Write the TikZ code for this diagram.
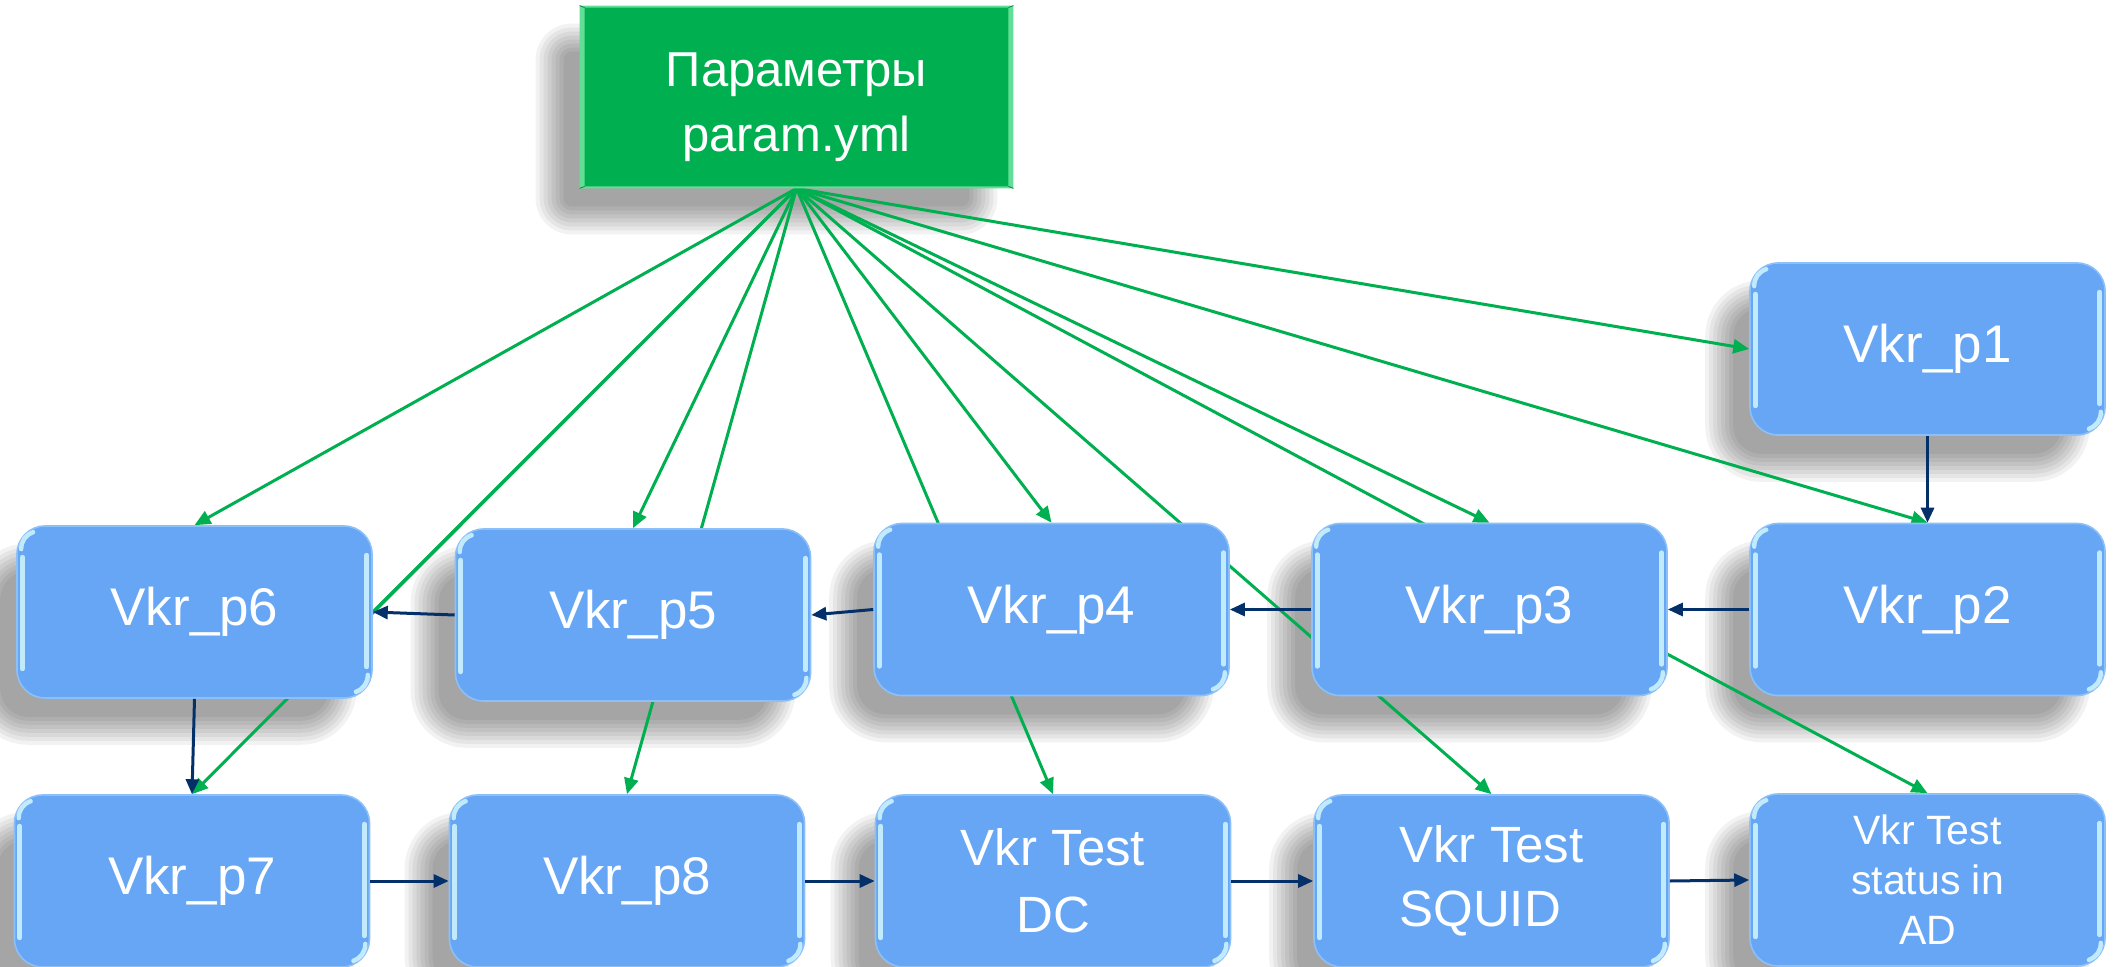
\documentclass[tikz,border=0pt]{standalone}
\usepackage{fontspec}
\setmainfont{Liberation Sans}
\usetikzlibrary{arrows.meta,calc}

\definecolor{boxblue}{HTML}{66A6F4}
\definecolor{boxedge}{HTML}{8CC0F8}
\definecolor{glosscol}{HTML}{D2F6FF}
\definecolor{paramgreen}{HTML}{00B050}
\definecolor{bevelgreen}{HTML}{63DE96}
\definecolor{linkgreen}{HTML}{00B050}
\definecolor{linknavy}{HTML}{04306A}

\pgfdeclarelayer{bg}
\pgfdeclarelayer{shadowlayer}
\pgfdeclarelayer{linklayer}
\pgfsetlayers{bg,shadowlayer,linklayer,main}

% soft drop shadow built from stacked translucent rectangles
\newcommand\dropshadow[2]{%
  \foreach \k in {0,...,7}{%
    \pgfmathsetmacro\rr{#1+2*\k}%
    \fill[black, opacity=0.05, rounded corners=\rr pt]
      ($(#2.north west)+({-16-4*\k},{46-4*\k})$) rectangle
      ($(#2.south east)+({-44+4*\k},{18+4*\k})$);
  }%
}

% glossy edge highlights of a rounded stage box
\newcommand\glossy[1]{%
  \draw[glossline] ($(#1.north west)+(6,32)$) -- ($(#1.south west)+(6,-30)$);
  \draw[glossline] ($(#1.north east)+(-6,30)$) -- ($(#1.south east)+(-6,-32)$);
  \draw[glossline, line width=2.2pt] ($(#1.north west)+(5,24)$) to[out=90,in=200] ($(#1.north west)+(17,7)$);
  \draw[glossline, line width=2.2pt] ($(#1.south east)+(-5,-24)$) to[out=-90,in=20] ($(#1.south east)+(-17,-7)$);
}

\tikzset{
  stage/.style={draw=boxedge, line width=0.8pt, fill=boxblue, rounded corners=14pt,
    minimum width=177.5pt, minimum height=86pt, inner sep=0pt, text=white,
    font=\fontsize{26.5}{33}\selectfont, align=center},
  paramstyle/.style={fill=paramgreen, minimum width=216.5pt, minimum height=91pt,
    inner sep=0pt, text=white, text height=59.5pt,
    font=\fontsize{24.5}{32.5}\selectfont, align=center},
  glossline/.style={glosscol, line width=2.4pt, opacity=0.85, line cap=round},
  greenarrow/.style={linkgreen, line width=1.5pt, -{Triangle[length=8pt,width=7pt]}},
  greenline/.style={linkgreen, line width=1.5pt},
  navyarrow/.style={linknavy, line width=1.5pt, -{Triangle[length=7.5pt,width=6.5pt]}},
}

\begin{document}
\begin{tikzpicture}[x=0.5pt,y=-0.5pt]
\begin{pgfonlayer}{bg}
  \fill[white] (0,0) rectangle (2123,967);
\end{pgfonlayer}
\useasboundingbox (0,0) rectangle (2123,967);

% configuration file with bevelled frame
\node[paramstyle] (param) at (796.5,97) {Параметры\\param.yml};
\fill[bevelgreen, even odd rule]
  (param.north west) rectangle (param.south east)
  ($(param.north west)+(5,2)$) rectangle ($(param.south east)+(-5,-2)$);
\draw[paramgreen!80!black, line width=0.4pt]
  (param.north west) -- ($(param.north west)+(5,2)$)
  (param.north east) -- ($(param.north east)+(-5,2)$)
  (param.south west) -- ($(param.south west)+(5,-2)$)
  (param.south east) -- ($(param.south east)+(-5,-2)$);

% processing stages
\node[stage] (p1) at (1927.5,349) {Vkr\_p1};
\node[stage] (p2) at (1927.5,609.5) {Vkr\_p2};
\node[stage] (p3) at (1489.5,609.5) {Vkr\_p3};
\node[stage] (p4) at (1051.5,609.5) {Vkr\_p4};
\node[stage] (p5) at (633,615) {Vkr\_p5};
\node[stage] (p6) at (194.5,612) {Vkr\_p6};
\node[stage] (p7) at (192,881) {Vkr\_p7};
\node[stage] (p8) at (627,881) {Vkr\_p8};
\node[stage, font=\fontsize{25.5}{33.5}\selectfont] (dc) at (1053,881) {Vkr Test\\DC};
\node[stage, font=\fontsize{25.5}{32}\selectfont, align=left] (squid) at (1491.5,881) {Vkr Test\\SQUID};
\node[stage, font=\fontsize{20.5}{25}\selectfont] (ad) at (1927.5,880) {Vkr Test\\status in\\AD};

\foreach \n in {p1,p2,p3,p4,p5,p6,p7,p8,dc,squid,ad}{\glossy{\n}}

% shadows
\begin{pgfonlayer}{shadowlayer}
  \dropshadow{4}{param}
  \foreach \n in {p1,p2,p3,p4,p5,p6,p7,p8,dc,squid,ad}{\dropshadow{14}{\n}}
\end{pgfonlayer}

% parameter links
\begin{pgfonlayer}{linklayer}
  \foreach \t in {p2,p3,p4,p5,p6,p7,p8,dc,squid,ad}{
    \draw[greenarrow] (param.south) -- (\t.north);
  }
  \draw[greenarrow] (param.south) -- (p1.west);
  \draw[greenline] (param.south) -- (p6.east);
\end{pgfonlayer}

% processing chain
\draw[navyarrow] (p1.south) -- (p2.north);
\draw[navyarrow] (p2.west) -- (p3.east);
\draw[navyarrow] (p3.west) -- (p4.east);
\draw[navyarrow] (p4.west) -- (p5.east);
\draw[navyarrow] (p5.west) -- (p6.east);
\draw[navyarrow] (p6.south) -- (p7.north);
\draw[navyarrow] (p7.east) -- (p8.west);
\draw[navyarrow] (p8.east) -- (dc.west);
\draw[navyarrow] (dc.east) -- (squid.west);
\draw[navyarrow] (squid.east) -- (ad.west);
\end{tikzpicture}
\end{document}
